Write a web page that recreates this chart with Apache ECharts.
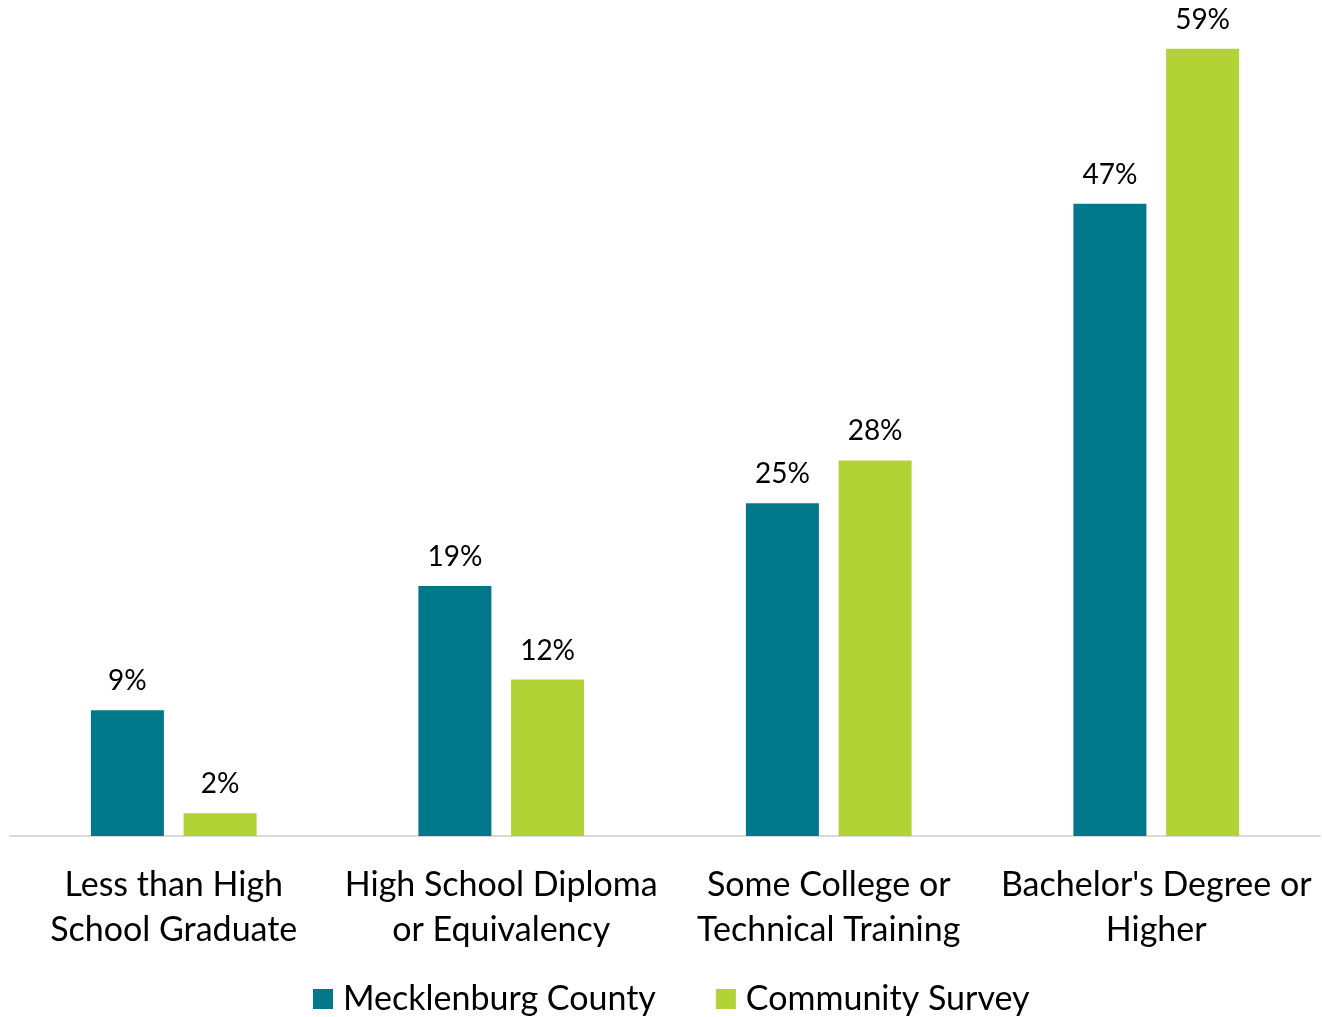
<!DOCTYPE html>
<html>
<head>
<meta charset="utf-8">
<script src="https://cdn.jsdelivr.net/npm/echarts@6/dist/echarts.min.js"></script>
<style>
html,body{margin:0;padding:0;background:#fff;}
#chart{width:1322px;height:1017px;}
</style>
</head>
<body>
<div id="chart"></div>
<script>
const categories = ["Less than High\nSchool Graduate", "High School Diploma\nor Equivalency", "Some College or\nTechnical Training", "Bachelor's Degree or\nHigher"];
const seriesNames = ["Mecklenburg County", "Community Survey"];
const mecklenburg = [9.4, 18.7, 24.9, 47.3];
const survey = [1.7, 11.7, 28.1, 58.9];
const colors = ["#00788A", "#B2D235"];
const FONT = "Lato";

const chart = echarts.init(document.getElementById('chart'), null, {renderer: 'canvas'});
const labelCfg = {
  show: true, position: 'top', distance: 15,
  fontFamily: FONT, fontSize: 28, color: '#000',
  formatter: p => Math.round(p.value) + '%'
};
chart.setOption({
  animation: false,
  backgroundColor: '#fff',
  grid: {left: 10, right: 2, top: 34, bottom: 181, containLabel: false},
  legend: {
    data: seriesNames, top: 980, left: 313, padding: 0,
    itemWidth: 20, itemHeight: 20, itemGap: 60,
    icon: 'rect',
    textStyle: {fontFamily: FONT, fontSize: 34, lineHeight: 38, color: '#000', padding: [0,0,0,5]}
  },
  xAxis: {
    type: 'category', data: categories,
    axisLine: {lineStyle: {color: '#D9D9D9', width: 2}},
    axisTick: {show: false},
    axisLabel: {fontFamily: FONT, fontSize: 34, color: '#000', lineHeight: 45, margin: 27, interval: 0}
  },
  yAxis: {
    type: 'value', min: 0, max: 60, show: false,
    splitLine: {show: false}
  },
  series: [
    {name: seriesNames[0], type: 'bar', data: mecklenburg, barWidth: 73, barGap: '27%',
     itemStyle: {color: colors[0]}, label: labelCfg},
    {name: seriesNames[1], type: 'bar', data: survey, barWidth: 73, barGap: '27%',
     itemStyle: {color: colors[1]}, label: labelCfg}
  ]
});
</script>
</body>
</html>
